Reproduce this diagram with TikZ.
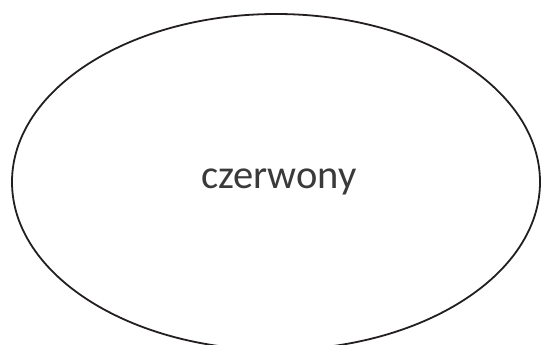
\documentclass[tikz,border=0pt]{standalone}
\usepackage{fontspec}
\setmainfont{Carlito}
\usepackage{tikz}
\usetikzlibrary{shapes.geometric}
\definecolor{outline}{HTML}{231F20}
\definecolor{inktext}{HTML}{3A3A3A}

\begin{document}
\begin{tikzpicture}[
  x=1pt,y=1pt,
  blob/.style={ellipse,draw=outline,line width=1.8pt,inner sep=0pt,
    minimum width=528pt,minimum height=336pt,text=inktext,
    font=\fontsize{40.5}{44}\selectfont}
]
\useasboundingbox (0,0) rectangle (541,345);
\clip (0,0) rectangle (541,345);
\node[blob] (colour) at (276,163) {\hspace*{6pt}\raisebox{-6pt}{czerwony}};
\end{tikzpicture}
\end{document}
